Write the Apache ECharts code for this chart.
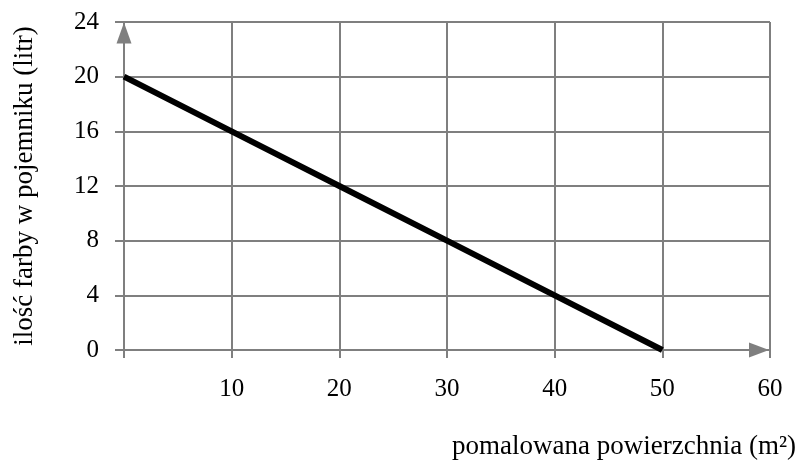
<!DOCTYPE html>
<html><head><meta charset="utf-8">
<script src="https://cdn.jsdelivr.net/npm/echarts@6/dist/echarts.min.js"></script>
<style>html,body{margin:0;padding:0;background:#fff}#c{width:804px;height:463px}</style>
</head><body><div id="c"></div>
<script>
const areaValues = [0, 10, 20, 30, 40, 50];
const paintValues = [20, 16, 12, 8, 4, 0];
const xTicks = [0, 10, 20, 30, 40, 50, 60];
const yTicks = [0, 4, 8, 12, 16, 20, 24];
const xAxisTitle = 'pomalowana powierzchnia (m²)';
const yAxisTitle = 'ilość farby w pojemniku (litr)';

const font = 'Liberation Serif, Times New Roman, serif';
const gray = '#7f7f7f';
const chart = echarts.init(document.getElementById('c'), null, {renderer: 'canvas'});
chart.setOption({
  animation: false,
  backgroundColor: '#fff',
  title: {
    text: xAxisTitle, right: 3, top: 428,
    textStyle: {fontFamily: font, fontSize: 27, fontWeight: 'normal', color: '#000'}
  },
  grid: {left: 124, right: 34, top: 22, bottom: 113, containLabel: false},
  xAxis: {
    type: 'value', min: xTicks[0], max: xTicks[xTicks.length - 1], interval: 10,
    axisLine: {show: true, symbol: ['none', 'triangle'], symbolSize: [15, 20], symbolOffset: [0, -11],
      lineStyle: {color: gray, width: 2}},
    axisTick: {show: true, length: 8, lineStyle: {color: gray, width: 2}},
    splitLine: {show: true, lineStyle: {color: gray, width: 2}},
    axisLabel: {margin: 27, color: '#000', fontFamily: font, fontSize: 25,
      formatter: v => (v === 0 ? '' : String(v))}
  },
  yAxis: {
    type: 'value', min: yTicks[0], max: yTicks[yTicks.length - 1], interval: 4,
    name: yAxisTitle, nameLocation: 'middle', nameGap: 86,
    nameTextStyle: {fontFamily: font, fontSize: 27, color: '#000'},
    axisLine: {show: true, symbol: ['none', 'triangle'], symbolSize: [15, 21], symbolOffset: [0, -11],
      lineStyle: {color: gray, width: 2}},
    axisTick: {show: true, length: 9, lineStyle: {color: gray, width: 2}},
    splitLine: {show: true, lineStyle: {color: gray, width: 2}},
    axisLabel: {margin: 25, color: '#000', fontFamily: font, fontSize: 25}
  },
  series: [{
    type: 'line',
    data: areaValues.map((x, i) => [x, paintValues[i]]),
    showSymbol: false,
    lineStyle: {color: '#000', width: 6},
    z: 5
  }]
});
</script></body></html>
